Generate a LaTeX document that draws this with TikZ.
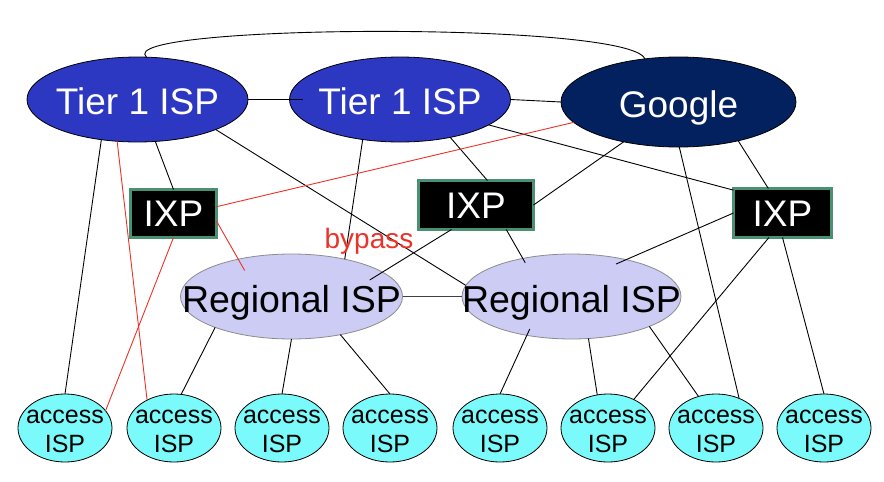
\documentclass[tikz,border=0pt]{standalone}
\usepackage{fontspec}
\setmainfont{Liberation Sans}
\usetikzlibrary{shapes.geometric}
\definecolor{tierblue}{RGB}{45,56,194}
\definecolor{gnavy}{RGB}{3,33,94}
\definecolor{regfill}{RGB}{204,204,245}
\definecolor{regline}{RGB}{140,140,140}
\definecolor{accfill}{RGB}{122,250,250}
\definecolor{ixpgreen}{RGB}{74,145,115}
\definecolor{bypassred}{RGB}{235,50,40}
\begin{document}
\begin{tikzpicture}[x=1pt,y=-1pt,
  oval/.style={ellipse, inner sep=-80pt, outer sep=0pt},
  tierisp/.style={oval, draw=black, line width=0.8pt, fill=tierblue, text=white,
    font=\fontsize{37}{44}\selectfont, text height=29.5pt, text depth=0pt,
    minimum width=221pt, minimum height=85pt},
  googisp/.style={oval, draw=black, line width=0.8pt, fill=gnavy, text=white,
    font=\fontsize{37}{44}\selectfont, text height=30pt, text depth=0pt,
    minimum width=235pt, minimum height=90pt},
  regisp/.style={oval, draw=regline, line width=0.8pt, fill=regfill, text=black,
    font=\fontsize{37.5}{44}\selectfont, text height=31pt, text depth=0pt,
    minimum width=222pt, minimum height=85pt},
  accisp/.style={oval, draw=black, line width=0.8pt, fill=accfill, text=black,
    font=\fontsize{25}{29.5}\selectfont, align=center,
    minimum width=94pt, minimum height=68pt},
  ixpbox/.style={rectangle, draw=ixpgreen, line width=3pt, fill=black, text=white,
    font=\fontsize{37}{44}\selectfont, text height=26.5pt, text depth=0pt,
    inner sep=0pt, outer sep=0pt},
  bypasstxt/.style={text=bypassred, font=\fontsize{28}{32}\selectfont, inner sep=0pt},
  link/.style={draw=black, line width=0.9pt},
  reglink/.style={draw=black!75, line width=1.2pt},
  redlink/.style={draw=bypassred, line width=0.9pt}
]
\useasboundingbox (0,0) rectangle (884,482);
\fill[white] (0,0) rectangle (884,482);

% Tier 1 and Google
\node[tierisp] (t1l) at (137.5,99.5) {Tier 1 ISP};
\node[tierisp] (t1m) at (400,99.5) {Tier 1 ISP};
\node[googisp] (goo) at (678.5,102) {Google};

% IXPs
\node[ixpbox, minimum width=86pt, minimum height=48pt] (ixa) at (173.5,213.5) {IXP};
\node[ixpbox, minimum width=115pt, minimum height=49pt] (ixb) at (476,205) {IXP};
\node[ixpbox, minimum width=98pt, minimum height=49pt] (ixc) at (782.5,213) {IXP};

% Regional
\node[regisp] (rl) at (291.5,296.5) {Regional ISP};
\node[regisp, minimum width=219pt] (rr) at (571.5,296.5) {Regional ISP};

% access
\foreach \i/\x in {1/65,2/174,3/282,4/390,5/500,6/608,7/716,8/824}{
  \node[accisp] (a\i) at (\x,428) {\rule{0pt}{20pt}access\\ISP};
}

% black links
\draw[link] (t1l.78) .. controls +(-36,-33) and +(-14,-38) .. (goo.128);
\draw[link, shorten >=-13pt] (t1l.east) -- (t1m.west);
\draw[link] (t1m.east) -- (goo.west);
\draw[link] (t1l.-132) -- (a1.north);
\draw[link] (t1l.-67) -- (ixa.north);
\draw[link] (t1l.-21) -- (rr.174);
\draw[link] (t1m.-133) -- (rl.35);
\draw[link] (t1m.-37) -- (ixb.65);
\draw[link] (t1m.-16) -- (ixc.155);
\draw[link] (goo.-144) -- (ixb.east);
\draw[link] (goo.-89) -- (a7.52);
\draw[link] (goo.-33) -- (ixc.120);
\draw[link, shorten >=-15pt] (ixb.-135) -- (rl.15);
\draw[link, shorten >=-5pt] (ixb.-39) -- (rr.142);
\draw[link, shorten >=-11pt] (ixc.west) -- (rr.34);
\draw[link] (ixc.-119) -- (a6.48);
\draw[link] (ixc.south) -- (a8.north);
\draw[link] (rl.-158) -- (a2.78);
\draw[link] (rl.south) -- (a3.north);
\draw[link] (rl.-38) -- (a4.north);
\draw[reglink] (rl.east) -- (rr.west);
\draw[link, shorten <=-7pt] (rr.-139) -- (a5.north);
\draw[link] (rr.-68) -- (a6.108);
\draw[link] (rr.-21) -- (a7.119);

% red links
\draw[redlink] (t1l.-116) -- (a2.134);
\draw[redlink] (ixa.south) -- (a1.23);
\draw[redlink] (ixa.9) -- (goo.-169);
\draw[redlink, shorten >=-13pt] (ixa.-10) -- (rl.145);

% bypass label
\node[bypasstxt, anchor=base] (byp) at (369,248) {bypass};
\end{tikzpicture}
\end{document}
